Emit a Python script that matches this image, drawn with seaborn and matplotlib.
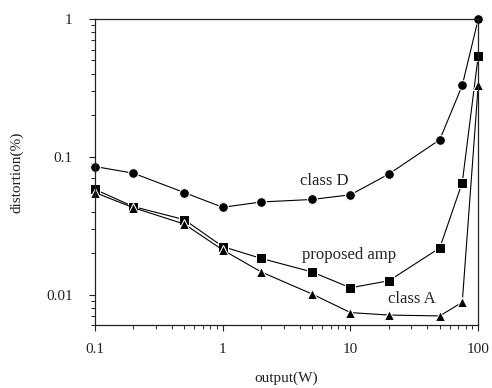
import numpy as np
import pandas as pd
import matplotlib
matplotlib.use("Agg")
import matplotlib.pyplot as plt
import seaborn as sns
from matplotlib.ticker import LogLocator, FixedLocator, FixedFormatter, NullFormatter

# output power (W)
output_w = [0.1, 0.2, 0.5, 1, 2, 5, 10, 20, 50, 75, 100]

# distortion (%)
class_d = [0.085, 0.076, 0.055, 0.043, 0.047, 0.049, 0.053, 0.075, 0.133, 0.33, 1.0]
proposed_amp = [0.058, 0.0435, 0.035, 0.0223, 0.0183, 0.0146, 0.0112, 0.0126, 0.0218, 0.065, 0.54]
class_a = [0.055, 0.0427, 0.0325, 0.0211, 0.0146, 0.0101, 0.0074, 0.0071, 0.0070, 0.0088, 0.33]

series_names = ["class D", "proposed amp", "class A"]

df = pd.DataFrame({
    "output": output_w * 3,
    "distortion": class_d + proposed_amp + class_a,
    "series": np.repeat(series_names, len(output_w)),
})

sns.set_style("ticks")
plt.rcParams["font.family"] = ["Liberation Serif", "DejaVu Serif"]

fig = plt.figure(figsize=(4.92, 3.88), dpi=100)
ax = fig.add_axes([0.193, 0.162, 0.779, 0.789])

sns.lineplot(
    data=df,
    x="output",
    y="distortion",
    hue="series",
    style="series",
    palette={n: "black" for n in series_names},
    markers={"class D": "o", "proposed amp": "s", "class A": "^"},
    dashes=False,
    markersize=7,
    linewidth=0.8,
    legend=False,
    clip_on=False,
    ax=ax,
)

ax.set_xscale("log")
ax.set_yscale("log")
ax.set_xlim(0.1, 100)
ax.set_ylim(0.006, 1.0)

ax.xaxis.set_major_locator(FixedLocator([0.1, 1, 10, 100]))
ax.xaxis.set_major_formatter(FixedFormatter(["0.1", "1", "10", "100"]))
ax.xaxis.set_minor_locator(LogLocator(base=10, subs=np.arange(2, 10)))
ax.xaxis.set_minor_formatter(NullFormatter())
ax.yaxis.set_major_locator(FixedLocator([0.01, 0.1, 1]))
ax.yaxis.set_major_formatter(FixedFormatter(["0.01", "0.1", "1"]))
ax.yaxis.set_minor_locator(LogLocator(base=10, subs=np.arange(2, 10)))
ax.yaxis.set_minor_formatter(NullFormatter())

ax.tick_params(which="major", direction="out", length=4, width=0.8,
               labelsize=11, colors="#222222")
ax.tick_params(axis="x", which="major", pad=9)
ax.tick_params(axis="y", which="major", pad=12)
ax.tick_params(which="minor", direction="out", length=3, width=0.7)
ax.tick_params(top=False, right=False)

for sp in ax.spines.values():
    sp.set_visible(True)
    sp.set_linewidth(0.9)
    sp.set_color("#222222")

ax.set_xlabel("output(W)", fontsize=11, labelpad=11, color="#222222")
ax.set_ylabel("distortion(%)", fontsize=11, labelpad=16, color="#222222")

ax.text(4.0, 0.067, "class D", fontsize=12, ha="left", va="center")
ax.text(4.2, 0.0195, "proposed amp", fontsize=12, ha="left", va="center")
ax.text(19.5, 0.0093, "class A", fontsize=12, ha="left", va="center")

fig.savefig("out.png", dpi=100)
